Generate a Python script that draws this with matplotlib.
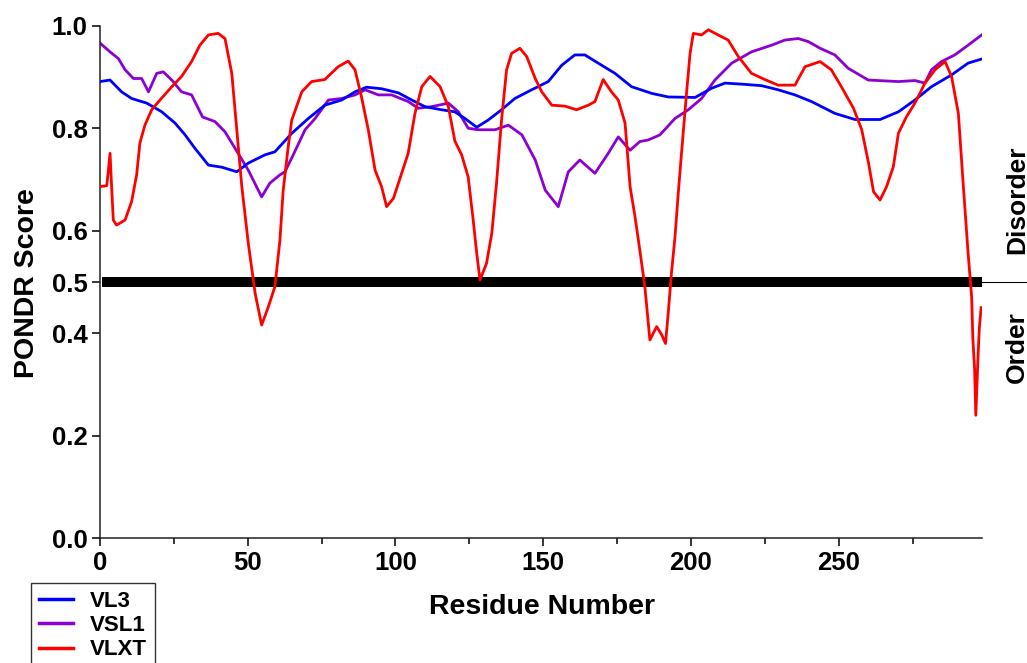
import matplotlib
matplotlib.use('Agg')
import matplotlib.pyplot as plt

plt.rcParams['font.family'] = ['Liberation Sans', 'DejaVu Sans']
plt.rcParams['font.weight'] = 'bold'

# residue positions / scores
vl3_x = [0, 3.4, 7.3, 10.7, 15.8, 20.9, 25.4, 28.8, 32.1, 36.7, 41.2, 46.3, 50.2, 55.8, 59.2,
         64.9, 70.5, 76.1, 81.8, 86.3, 90.2, 95.3, 101, 105.5, 110, 115.6, 120.1, 123.5, 127.5,
         131.4, 135.9, 140.4, 146.1, 151.7, 156.3, 160.7, 164.1, 168.6, 174.3, 179.9, 186.7,
         192.3, 201.4, 207, 211.5, 217.2, 223.9, 229.5, 235.2, 240.8, 248.7, 255.5, 264, 270.2,
         275.8, 281.4, 288.2, 293.8, 298.4]
vl3_y = [0.891, 0.894, 0.871, 0.858, 0.849, 0.832, 0.810, 0.787, 0.761, 0.728, 0.724, 0.715,
         0.732, 0.748, 0.754, 0.790, 0.819, 0.845, 0.855, 0.871, 0.880, 0.877, 0.869, 0.855,
         0.842, 0.836, 0.832, 0.819, 0.802, 0.816, 0.836, 0.858, 0.875, 0.891, 0.923, 0.943,
         0.943, 0.927, 0.907, 0.881, 0.868, 0.861, 0.860, 0.878, 0.888, 0.886, 0.883, 0.875,
         0.865, 0.852, 0.829, 0.817, 0.817, 0.832, 0.855, 0.881, 0.904, 0.927, 0.935]

vsl1_x = [0, 3.4, 6.2, 8.5, 11.3, 14.1, 16.4, 19.2, 21.4, 24.3, 27.6, 31, 34.7, 38.9, 42.3,
          45.7, 50.2, 54.7, 57.5, 60.9, 62.6, 65.4, 69.4, 72.8, 77.3, 81.8, 86.3, 89.7, 94.2,
          98.7, 104.3, 107.7, 112.2, 117.9, 121.3, 124.6, 128, 133.7, 138.2, 142.8, 147.3,
          150.7, 155.1, 158.5, 162.4, 167.5, 172, 175.4, 179.4, 182.7, 185.5, 189.5, 194.6,
          199.1, 203.6, 208.1, 213.8, 220.5, 227.3, 231.8, 236.3, 239.7, 243.7, 248.7, 253.2,
          260, 270.2, 275.8, 279.2, 281.4, 284.8, 289.3, 293.8, 298.4]
vsl1_y = [0.966, 0.949, 0.936, 0.914, 0.897, 0.897, 0.871, 0.907, 0.910, 0.894, 0.871, 0.865,
          0.822, 0.813, 0.793, 0.761, 0.718, 0.666, 0.693, 0.709, 0.715, 0.748, 0.797, 0.819,
          0.855, 0.858, 0.865, 0.875, 0.865, 0.865, 0.852, 0.839, 0.842, 0.849, 0.832, 0.800,
          0.797, 0.797, 0.806, 0.787, 0.738, 0.679, 0.647, 0.715, 0.738, 0.712, 0.751, 0.783,
          0.757, 0.774, 0.777, 0.787, 0.819, 0.836, 0.858, 0.894, 0.927, 0.949, 0.962, 0.972,
          0.975, 0.969, 0.956, 0.943, 0.917, 0.894, 0.891, 0.893, 0.888, 0.914, 0.930, 0.943,
          0.962, 0.982]

vlxt_x = [0, 2.3, 3.4, 3.9, 4.5, 5.6, 8.5, 10.7, 12.4, 13.5, 15.2, 17.5, 20.3, 24.3, 27.6, 31,
          33.8, 36.7, 40, 42.3, 44.6, 46.3, 48, 50.2, 52.5, 54.7, 57, 59.2, 60.9, 62, 63.7, 64.9,
          68.3, 71.6, 76.1, 80.6, 84, 86.3, 88.5, 90.8, 93.1, 95.3, 97, 99.3, 102.1, 104.3,
          106.6, 108.9, 111.7, 115.1, 117.9, 120.1, 122.4, 124.6, 126.3, 127.5, 128.6, 130.8,
          132.6, 134.2, 135.9, 137.6, 139.3, 142.1, 144.4, 147.3, 149.5, 152.9, 157.4, 161.3,
          165.3, 167.5, 170.3, 173.1, 175.4, 177.7, 179.4, 181, 182.7, 184.4, 186.1, 188.4,
          190.1, 191.4, 192.3, 193.4, 194.6, 195.7, 196.8, 198.5, 199.7, 200.8, 203.6, 205.9,
          209.2, 212.6, 216, 220.5, 225, 229.5, 235.2, 238.6, 243.7, 247.5, 250.9, 255, 257.8,
          260.1, 261.8, 264, 266.2, 268.5, 270.2, 272.9, 275.8, 279.2, 282.6, 286, 288.2,
          290.5, 292.2, 293.8, 295, 295.4, 296.0, 296.4, 296.8, 297.2, 297.6, 298.2]
vlxt_y = [0.686, 0.688, 0.751, 0.689, 0.621, 0.611, 0.621, 0.657, 0.709, 0.771, 0.806, 0.836,
          0.855, 0.881, 0.901, 0.930, 0.962, 0.982, 0.985, 0.975, 0.907, 0.797, 0.686, 0.575,
          0.478, 0.416, 0.452, 0.491, 0.582, 0.679, 0.764, 0.816, 0.871, 0.891, 0.895, 0.920,
          0.931, 0.914, 0.861, 0.797, 0.718, 0.686, 0.647, 0.663, 0.712, 0.751, 0.829, 0.881,
          0.901, 0.881, 0.842, 0.775, 0.748, 0.705, 0.621, 0.556, 0.504, 0.536, 0.595, 0.693,
          0.816, 0.914, 0.946, 0.956, 0.940, 0.897, 0.871, 0.845, 0.843, 0.836, 0.845, 0.852,
          0.895, 0.871, 0.855, 0.810, 0.686, 0.630, 0.562, 0.491, 0.387, 0.413, 0.397, 0.380,
          0.439, 0.517, 0.588, 0.673, 0.751, 0.868, 0.946, 0.985, 0.982, 0.992, 0.982, 0.972,
          0.940, 0.907, 0.895, 0.884, 0.884, 0.920, 0.930, 0.914, 0.881, 0.839, 0.797, 0.732,
          0.676, 0.660, 0.686, 0.725, 0.790, 0.822, 0.849, 0.888, 0.914, 0.930, 0.901, 0.829,
          0.686, 0.556, 0.471, 0.39, 0.33, 0.24, 0.30, 0.36, 0.41, 0.45]

threshold = 0.5
n_res = 298.4
yticks = [0.0, 0.2, 0.4, 0.5, 0.6, 0.8, 1.0]

fig = plt.figure(figsize=(10.27, 6.63), dpi=100)
ax = fig.add_axes([100/1027, 124.7/663, 881.7/1027, 512.6/663])

# threshold bar, thin continuation past the axis on the right
ax.plot([0.6, n_res], [threshold, threshold], color='black', lw=7.2, solid_capstyle='butt', zorder=1)
ax.plot([n_res, n_res + 16], [threshold, threshold], color='black', lw=0.8, clip_on=False, zorder=1)

ax.plot(vl3_x, vl3_y, color='#0000ff', lw=2.0, label='VL3', zorder=3)
ax.plot(vsl1_x, vsl1_y, color='#8c00d2', lw=2.0, label='VSL1', zorder=2)
ax.plot(vlxt_x, vlxt_y, color='#ff0000', lw=2.0, label='VLXT', zorder=4)

ax.set_xlim(0, n_res)
ax.set_ylim(0, 1.0)
ax.set_yticks(yticks)
ax.set_yticklabels(['%.1f' % t for t in yticks])
ax.set_xticks([0, 50, 100, 150, 200, 250])
ax.set_xticks([25, 75, 125, 175, 225, 275], minor=True)
for s in ['top', 'right']:
    ax.spines[s].set_visible(False)
for s in ['left', 'bottom']:
    ax.spines[s].set_linewidth(1.1)
    ax.spines[s].set_color('#222222')
ax.tick_params(which='major', length=6, width=1.1, labelsize=18.5, pad=3)
ax.tick_params(which='minor', length=4, width=1.1)

fig.text(542/1027, 1 - 607/663, 'Residue Number', ha='center', va='center', fontsize=20.5, fontweight='bold')
fig.text(27/1027, 1 - 283/663, 'PONDR Score', ha='center', va='center', rotation=90, fontsize=20.5, fontweight='bold')
fig.text(1017/1027, 1 - 200/663, 'Disorder', ha='center', va='center', rotation=90, fontsize=19, fontweight='bold')
fig.text(1017/1027, 1 - 347/663, 'Order', ha='center', va='center', rotation=90, fontsize=19, fontweight='bold')

leg = fig.legend(loc='upper left', bbox_to_anchor=(31/1027, 1 - 583/663), fontsize=16,
                 frameon=True, fancybox=False, edgecolor='black', handlelength=1.55,
                 handletextpad=0.75, labelspacing=0.15, borderpad=0.35, borderaxespad=0)
leg.get_frame().set_linewidth(1.0)
for h in leg.get_lines():
    h.set_linewidth(2.5)

fig.savefig('out.png', dpi=100)
